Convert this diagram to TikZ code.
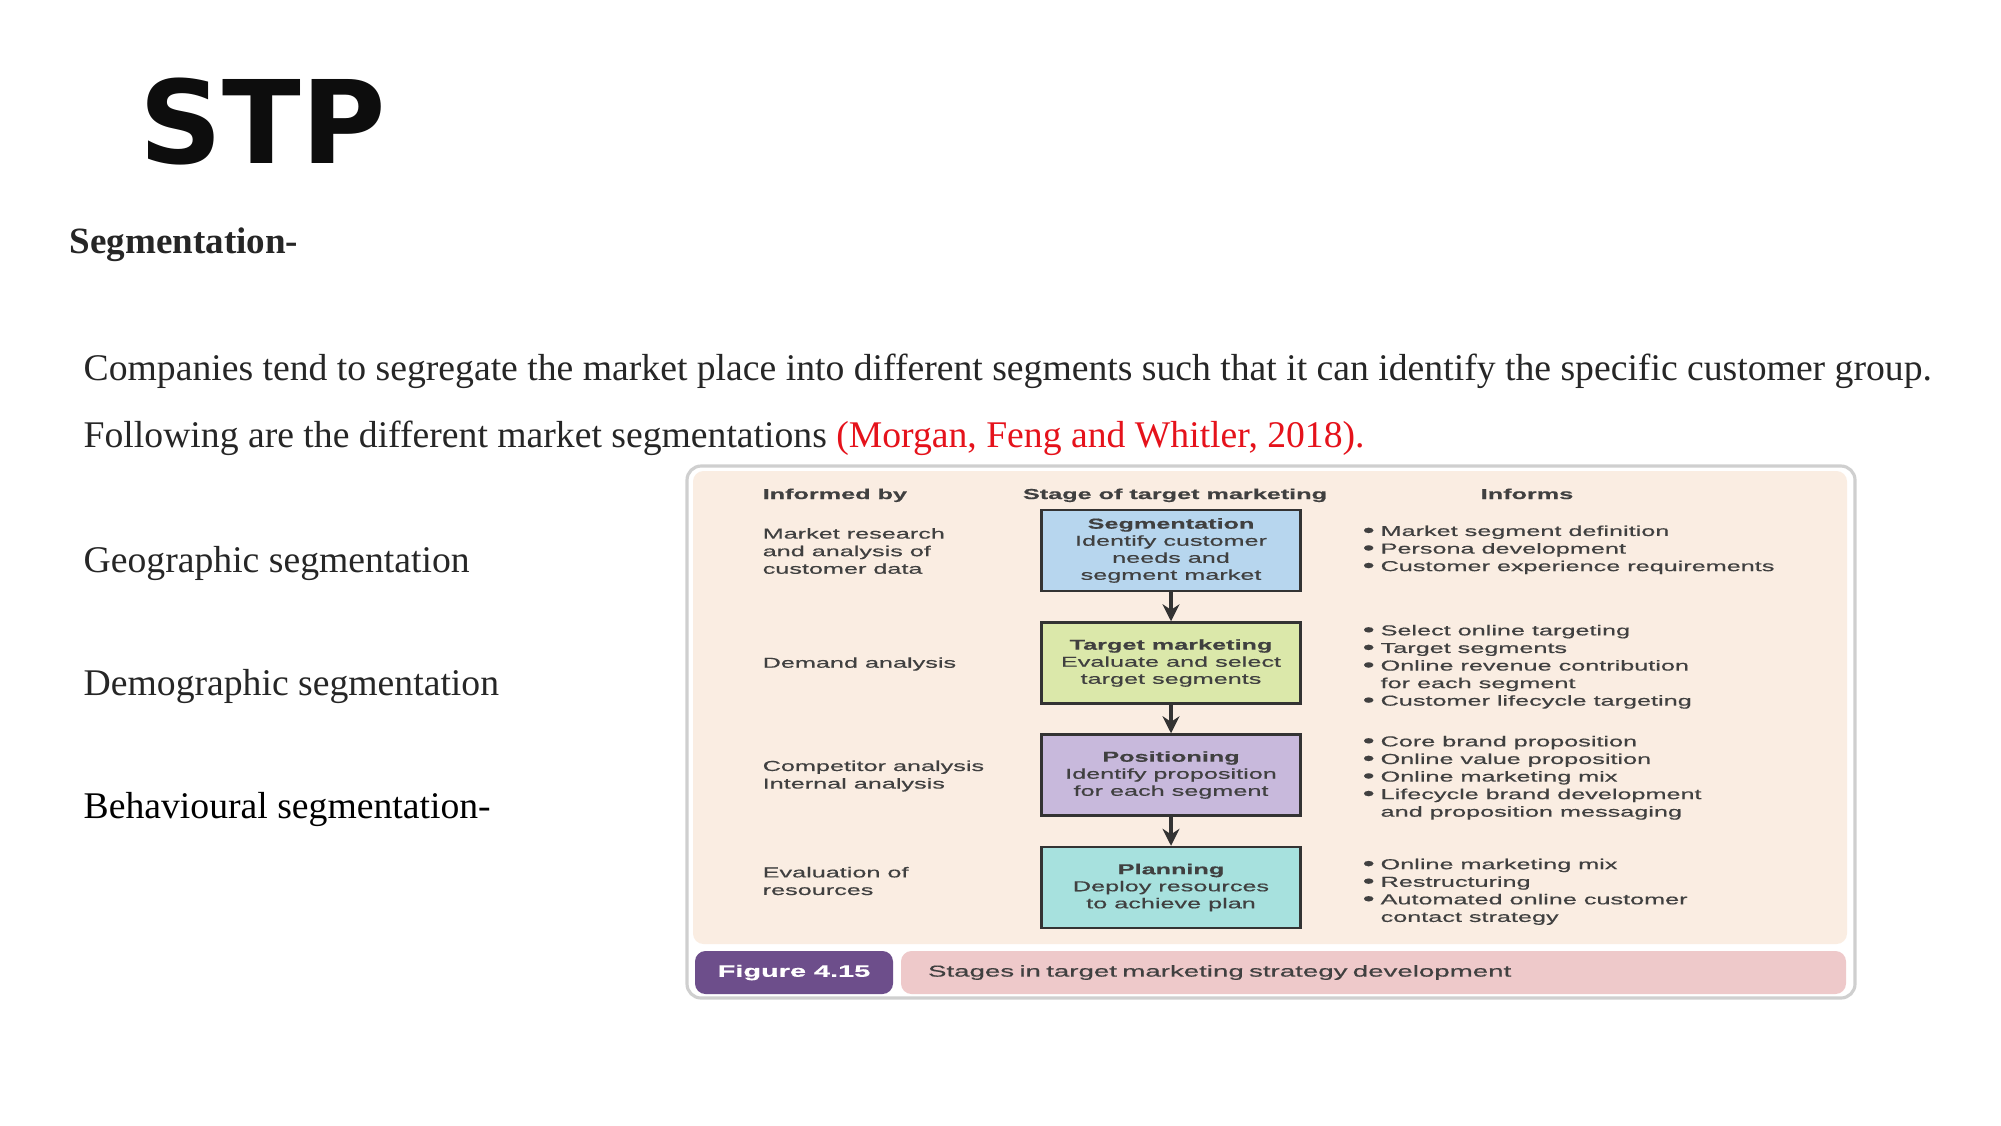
\documentclass[tikz,border=0pt]{standalone}
\usepackage{fontspec}
\setmainfont{Liberation Serif}
\newfontfamily\headfont{DejaVu Sans}
\newfontfamily\figfont[FakeStretch=1.75, FakeBold=0.5]{Liberation Sans}
\usetikzlibrary{arrows.meta,positioning}

\definecolor{bodytext}{HTML}{262626}
\definecolor{citered}{HTML}{E5121B}
\definecolor{framegray}{HTML}{CFCFCF}
\definecolor{peach}{HTML}{FAEDE2}
\definecolor{boxline}{HTML}{333333}
\definecolor{figtext}{HTML}{404040}
\definecolor{segblue}{HTML}{B7D6EE}
\definecolor{tgtgreen}{HTML}{DBE8AA}
\definecolor{posviolet}{HTML}{C8B9DC}
\definecolor{plancyan}{HTML}{A7E1DE}
\definecolor{figpurple}{HTML}{6D4E8B}
\definecolor{capink}{HTML}{EEC9CA}

\newcommand\fbul{\raisebox{-0.25pt}{\scalebox{1.35}{\textbullet}}}

\begin{document}
\begin{tikzpicture}[x=1cm, y=-1cm, >=Stealth,
    body/.style={anchor=base west, inner sep=0pt, text=bodytext,
      font=\fontsize{10.72pt}{12.8pt}\selectfont},
    ftext/.style={inner sep=0pt, text=figtext,
      font=\figfont\fontsize{4.1pt}{5pt}\selectfont},
    stage/.style={draw=boxline, line width=0.7pt, minimum width=2.59cm,
      minimum height=0.81cm, inner sep=0pt, align=center, text=figtext,
      font=\figfont\fontsize{4.1pt}{4.85pt}\selectfont},
    flow/.style={draw=boxline, line width=1.1pt,
      arrows={-Stealth[length=1.7mm, width=1.7mm]}}]
  \useasboundingbox (0,0) rectangle (20.01,11.25);

  % slide text
  \node[anchor=base west, inner sep=0pt, text={black!95},
    font=\headfont\bfseries\fontsize{32.8pt}{36pt}\selectfont] (title) at (1.39,1.63) {STP};
  \node[body, font=\bfseries\fontsize{10.55pt}{12.6pt}\selectfont] (segh) at (0.69,2.53) {Segmentation-};
  \node[body] (line1) at (0.83,3.80) {Companies tend to segregate the market place into different segments such that it can identify the specific customer group.};
  \node[body] (line2) at (0.83,4.47) {Following are the different market segmentations \textcolor{citered}{(Morgan, Feng and Whitler, 2018).}};
  \node[body] (geo) at (0.83,5.72) {Geographic segmentation};
  \node[body] (demo) at (0.83,6.95) {Demographic segmentation};
  \node[body, text=black] (behav) at (0.83,8.18) {Behavioural segmentation-};

  % figure frame
  \draw[framegray, line width=0.9pt, fill=white, rounded corners=4pt] (6.87,4.66) rectangle (18.55,9.98);
  \fill[peach, rounded corners=3pt] (6.93,4.71) rectangle (18.47,9.44);

  % column heads
  \node[ftext, anchor=base west, font=\figfont\bfseries\fontsize{4.1pt}{5pt}\selectfont] (hinf) at (7.62,4.99) {Informed by};
  \node[ftext, anchor=base, font=\figfont\bfseries\fontsize{4.1pt}{5pt}\selectfont] (hstage) at (11.75,4.99) {Stage of target marketing};
  \node[ftext, anchor=base, font=\figfont\bfseries\fontsize{4.1pt}{5pt}\selectfont] (hout) at (15.27,4.99) {Informs};

  % stages
  \node[stage, fill=segblue] (seg) at (11.71,5.505) {\textbf{Segmentation}\\Identify customer\\needs and\\segment market};
  \node[stage, fill=tgtgreen] (tgt) at (11.71,6.63) {\textbf{Target marketing}\\Evaluate and select\\target segments};
  \node[stage, fill=posviolet] (pos) at (11.71,7.75) {\textbf{Positioning}\\Identify proposition\\for each segment};
  \node[stage, fill=plancyan] (plan) at (11.71,8.875) {\textbf{Planning}\\Deploy resources\\to achieve plan};
  \draw[flow] (seg) -- (tgt);
  \draw[flow] (tgt) -- (pos);
  \draw[flow] (pos) -- (plan);

  % informed by
  \node[ftext, anchor=west, align=left] (inf1) at (7.62,5.51) {Market research\\and analysis of\\customer data};
  \node[ftext, anchor=west, align=left] (inf2) at (7.62,6.64) {Demand analysis};
  \node[ftext, anchor=west, align=left] (inf3) at (7.62,7.76) {Competitor analysis\\Internal analysis};
  \node[ftext, anchor=west, align=left] (inf4) at (7.62,8.81) {Evaluation of\\resources};

  % informs
  \node[ftext, anchor=west] (out1) at (13.62,5.50) {\begin{tabular}{@{}l@{\hspace{0.06cm}}l@{}}
    \fbul & Market segment definition\\
    \fbul & Persona development\\
    \fbul & Customer experience requirements\end{tabular}};
  \node[ftext, anchor=west] (out2) at (13.62,6.67) {\begin{tabular}{@{}l@{\hspace{0.06cm}}l@{}}
    \fbul & Select online targeting\\
    \fbul & Target segments\\
    \fbul & Online revenue contribution\\
     & for each segment\\
    \fbul & Customer lifecycle targeting\end{tabular}};
  \node[ftext, anchor=west] (out3) at (13.62,7.78) {\begin{tabular}{@{}l@{\hspace{0.06cm}}l@{}}
    \fbul & Core brand proposition\\
    \fbul & Online value proposition\\
    \fbul & Online marketing mix\\
    \fbul & Lifecycle brand development\\
     & and proposition messaging\end{tabular}};
  \node[ftext, anchor=west] (out4) at (13.62,8.92) {\begin{tabular}{@{}l@{\hspace{0.06cm}}l@{}}
    \fbul & Online marketing mix\\
    \fbul & Restructuring\\
    \fbul & Automated online customer\\
     & contact strategy\end{tabular}};

  % caption bar
  \node[fill=figpurple, rounded corners=3pt, minimum width=1.98cm, minimum height=0.43cm, inner sep=0pt,
    text=white, font=\figfont\bfseries\fontsize{4.7pt}{5.5pt}\selectfont] (figno) at (7.94,9.725) {Figure 4.15};
  \node[fill=capink, rounded corners=3pt, minimum height=0.43cm, text width=8.91cm, inner xsep=0.27cm, inner ysep=0pt,
    align=left, text=figtext, font=\figfont\fontsize{4.5pt}{5.5pt}\selectfont] (caption) at (13.735,9.725) {Stages in target marketing strategy development};
\end{tikzpicture}
\end{document}
